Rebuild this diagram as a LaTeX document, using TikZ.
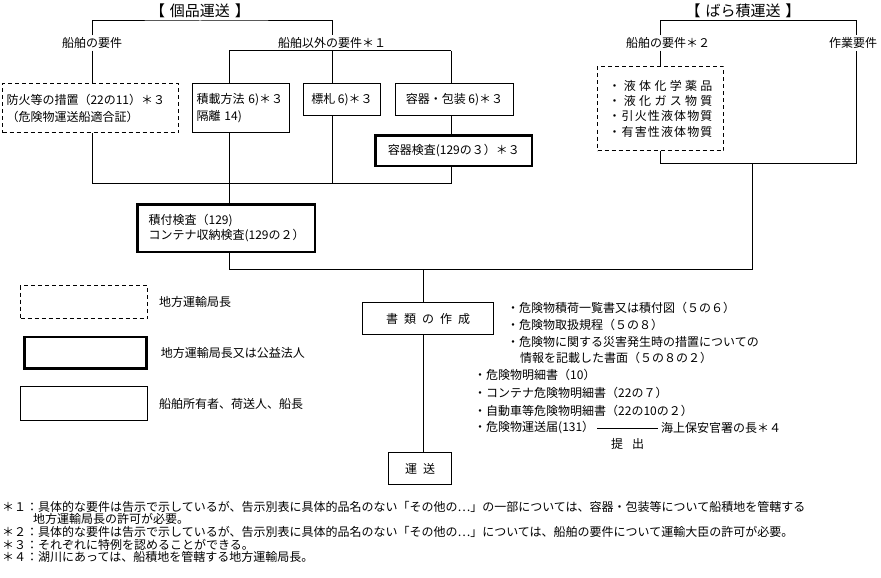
\documentclass[tikz,border=0pt]{standalone}
\usepackage{fontspec}
\setmainfont{Noto Sans CJK JP}
\usetikzlibrary{positioning}

\newcommand{\bulkitem}[1]{\makebox[104pt][s]{#1}}

\tikzset{
  jp/.style={font=\fontsize{12pt}{17pt}\selectfont},
  reqbox/.style={draw, line width=1pt, inner sep=4pt, jp, align=center, anchor=north west},
  authbox/.style={reqbox, line width=2.6pt},
  localbox/.style={reqbox, dash pattern=on 4pt off 3pt},
  tag/.style={jp, inner sep=2pt},
  heading/.style={font=\fontsize{15pt}{18pt}\selectfont, inner sep=1pt},
  docitem/.style={jp, inner sep=0pt, anchor=west},
  link/.style={line width=1pt}
}

\begin{document}
\begin{tikzpicture}[x=1pt, y=-1pt]
  \useasboundingbox (0,0) rectangle (881,578);

  % headings and requirement labels
  \node[heading] (ttl1) at (200,11) {【\hspace{5pt}個品運送\hspace{5pt}】};
  \node[heading] (ttl2) at (743,11) {【\hspace{5pt}ばら積運送\hspace{5pt}】};
  \node[tag] (req1) at (92,43) {船舶の要件};
  \node[tag] (req2) at (332,43) {船舶以外の要件＊１};
  \node[tag] (breq) at (668,43) {船舶の要件＊２};
  \node[tag] (work) at (853,43) {作業要件};

  % packaged goods
  \node[localbox, minimum height=49pt, text width=168pt, align=left] (fire) at (2,83)
   {防火等の措置（22の11）＊３\\（危険物運送船適合証）};
  \node[reqbox, minimum height=49pt, text width=89pt, align=left] (stow) at (192,83)
   {積載方法 6)＊３\\隔離 14)};
  \node[reqbox, minimum width=77pt, minimum height=32pt] (lbl) at (303,83) {標札 6)＊３};
  \node[reqbox, minimum width=118pt, minimum height=32pt] (pack) at (395,83) {容器・包装 6)＊３};
  \node[authbox, minimum width=156.4pt, minimum height=30.4pt] (packinsp) at (374.3,134.3)
   {容器検査(129の３）＊３};
  \node[authbox, minimum height=47.4pt, inner xsep=11pt, text width=155.4pt, align=left,
    font=\fontsize{12pt}{15pt}\selectfont] (stowinsp) at (136.3,203.3)
   {積付検査（129)\\コンテナ収納検査(129の２）};

  % bulk
  \node[localbox, minimum width=126pt, minimum height=84pt, font=\fontsize{12pt}{15.3pt}\selectfont] (bulk) at (597,66)
   {\bulkitem{・\hfil 液\hfil 体\hfil 化\hfil 学\hfil 薬\hfil 品}\\
    \bulkitem{・\hfil 液\hfil 化\hfil ガ\hfil ス\hfil 物\hfil 質}\\
    \bulkitem{・\hfil 引\hfil 火\hfil 性\hfil 液\hfil 体\hfil 物\hfil 質}\\
    \bulkitem{・\hfil 有\hfil 害\hfil 性\hfil 液\hfil 体\hfil 物\hfil 質}};

  % documents and transport
  \node[reqbox, minimum width=131pt, minimum height=32pt] (docs) at (362,302)
   {書\hspace{6pt}類\hspace{6pt}の\hspace{6pt}作\hspace{6pt}成};
  \node[reqbox, minimum width=63pt, minimum height=32pt] (ship) at (388,452) {運\hspace{6pt}送};

  \node[docitem] (d1) at (507,308) {・危険物積荷一覧書又は積付図（５の６）};
  \node[docitem] (d2) at (507,325) {・危険物取扱規程（５の８）};
  \node[docitem] (d3) at (507,342) {・危険物に関する災害発生時の措置についての};
  \node[docitem] (d3b) at (520,358) {情報を記載した書面（５の８の２）};
  \node[docitem] (d4) at (474,375) {・危険物明細書（10）};
  \node[docitem] (d5) at (474,393) {・コンテナ危険物明細書（22の７）};
  \node[docitem] (d6) at (474,411) {・自動車等危険物明細書（22の10の２）};
  \node[docitem] (notice) at (474,428) {・危険物運送届(131）};
  \node[docitem] (coast) at (661,428) {海上保安官署の長＊４};
  \draw[link, shorten <=3pt, shorten >=3pt] (notice.east) -- (coast.west)
    node[tag, midway, below=8pt] {提\hspace{9pt}出};

  % legend
  \node[localbox, minimum width=127pt, minimum height=33pt] (keylocal) at (20,285) {};
  \node[tag, right=9pt of keylocal] (keylocaltxt) {地方運輸局長};
  \node[authbox, minimum width=122pt, minimum height=31.5pt] (keyauth) at (23,335.5) {};
  \node[tag, right=11pt of keyauth] (keyauthtxt) {地方運輸局長又は公益法人};
  \node[reqbox, minimum width=127pt, minimum height=34pt] (keyowner) at (20,386) {};
  \node[tag, right=9pt of keyowner] (keyownertxt) {船舶所有者、荷送人、船長};

  % footnotes
  \node[anchor=north west, align=left, inner sep=0pt, font=\fontsize{12pt}{12.6pt}\selectfont] (notes) at (2,501)
   {＊１：具体的な要件は告示で示しているが、告示別表に具体的品名のない「その他の…」の一部については、容器・包装等について船積地を管轄する\\
    \hspace*{31pt}地方運輸局長の許可が必要。\\
    ＊２：具体的な要件は告示で示しているが、告示別表に具体的品名のない「その他の…」については、船舶の要件について運輸大臣の許可が必要。\\
    ＊３：それぞれに特例を認めることができる。\\
    ＊４：湖川にあっては、船積地を管轄する地方運輸局長。};

  % packaged goods tree
  \coordinate (top1) at (200,21);
  \draw[link] (req1.north) |- (top1) -| (req2.north);
  \draw[link] (req1.south) -- (fire.north -| req1.south);
  \coordinate (j2w) at (229,51);
  \coordinate (j2e) at (451,51);
  \draw[link] (j2w) -- (j2e);
  \draw[link] (j2w) -- (stow.north -| j2w);
  \draw[link] (req2.south) -- (lbl.north -| req2.south);
  \draw[link] (j2e) -- (pack.north -| j2e);
  \draw[link] (pack.south -| j2e) -- (packinsp.north -| j2e);
  \coordinate (j3w) at (92,183);
  \coordinate (j3e) at (451,183);
  \draw[link] (fire.south -| j3w) -- (j3w) -- (j3e) -- (packinsp.south -| j3e);
  \draw[link] (lbl.south -| req2.south) -- (j3w -| req2.south);
  \draw[link] (stow.south -| j2w) -- (stowinsp.north -| j2w);

  % bulk tree
  \coordinate (top2w) at (660,21);
  \coordinate (top2e) at (856,21);
  \draw[link] (breq.north -| top2w) -- (top2w) -- (top2e) -- (work.north -| top2e);
  \draw[link] (breq.south -| top2w) -- (bulk.north -| top2w);
  \coordinate (j5w) at (660,163);
  \coordinate (j5e) at (856,163);
  \draw[link] (bulk.south -| j5w) -- (j5w) -- (j5e) -- (work.south -| j5e);

  % merge to documents
  \coordinate (j4w) at (229,269);
  \coordinate (j4m) at (423,269);
  \coordinate (j4e) at (752,269);
  \draw[link] (stowinsp.south -| j4w) -- (j4w) -- (j4e) -- (j5w -| j4e);
  \draw[link] (j4m) -- (docs.north -| j4m);
  \draw[link] (docs.south -| j4m) -- (ship.north -| j4m);
\end{tikzpicture}
\end{document}
